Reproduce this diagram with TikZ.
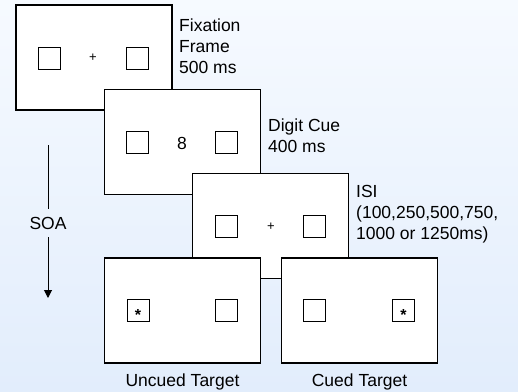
\documentclass[tikz,border=0pt]{standalone}
\usepackage{fontspec}
\setmainfont{Liberation Sans}
\usetikzlibrary{calc,arrows.meta}
\definecolor{bgtop}{HTML}{F6FAFF}
\definecolor{bgbot}{HTML}{E2EDFC}
\tikzset{
  frame/.style={draw=black, fill=white, line width=1.4pt, minimum width=156pt, minimum height=105pt, inner sep=0pt},
  slot/.style={draw=black, fill=white, line width=1pt, minimum size=22pt, inner sep=0pt},
  lbl/.style={font=\fontsize{17.5}{21}\selectfont, align=left, anchor=base west, inner sep=0pt},
  caption/.style={font=\fontsize{17.5}{21}\selectfont, anchor=base, inner sep=0pt},
  small/.style={font=\fontsize{13}{14}\selectfont, inner sep=0pt},
  star/.style={font=\fontsize{16}{16}\bfseries, inner sep=0pt},
  big/.style={font=\fontsize{17.5}{21}\selectfont, inner sep=0pt},
}
\begin{document}
\begin{tikzpicture}[x=1pt, y=-1pt]
\shade[top color=bgtop, bottom color=bgbot] (0,0) rectangle (518,391);
\useasboundingbox (0,0) rectangle (518,391);
% frame 1
\node[frame] (f1) at (94,57.5) {};
\node[slot] (f1l) at ($(f1)+(-44.5,1)$) {};
\node[slot] (f1r) at ($(f1)+(43.5,1)$) {};
\node[small] (f1c) at ($(f1)+(-1,0)$) {+};
\node[lbl] (t1) at (179,73) {Fixation\\Frame\\500 ms};
% frame 2
\node[frame] (f2) at (182.5,142) {};
\node[slot] (f2l) at ($(f2)+(-45,0.5)$) {};
\node[slot] (f2r) at ($(f2)+(44,0.5)$) {};
\node[big] (f2c) at ($(f2)+(-0.5,1)$) {8};
\node[lbl] (t2) at (268,152) {Digit Cue\\400 ms};
% frame 3
\node[frame] (f3) at (270.5,226) {};
\node[slot] (f3l) at ($(f3)+(-44,0.5)$) {};
\node[slot] (f3r) at ($(f3)+(44,0.5)$) {};
\node[small] (f3c) at ($(f3)+(0.5,0.5)$) {+};
\node[lbl] (t3) at (356,239) {ISI\\(100,250,500,750,\\1000 or 1250ms)};
% frame 4
\node[frame] (f4) at (182.5,310.5) {};
\node[slot] (f4l) at ($(f4)+(-44,0)$) {};
\node[star] (f4s) at ($(f4l)+(-0.5,4.5)$) {*};
\node[slot] (f4r) at ($(f4)+(44,0)$) {};
\node[caption] (t4) at ($(f4.south)+(0,23)$) {Uncued Target};
% frame 5
\node[frame] (f5) at (359.5,310.5) {};
\node[slot] (f5l) at ($(f5)+(-45,0)$) {};
\node[slot] (f5r) at ($(f5)+(44,0)$) {};
\node[star] (f5s) at ($(f5r)+(0,4.5)$) {*};
\node[caption] (t5) at ($(f5.south)+(0,23)$) {Cued Target};
% SOA arrow
\coordinate (soatop) at (48,145);
\coordinate (soabot) at (48,298);
\node[big, inner xsep=2pt, inner ysep=8pt] (soa) at (48,223) {SOA};
\draw[line width=1pt] (soatop) -- (soa.north);
\draw[line width=1pt, -{Triangle[length=8pt, width=8pt]}] (soa.south) -- (soabot);
\end{tikzpicture}
\end{document}
